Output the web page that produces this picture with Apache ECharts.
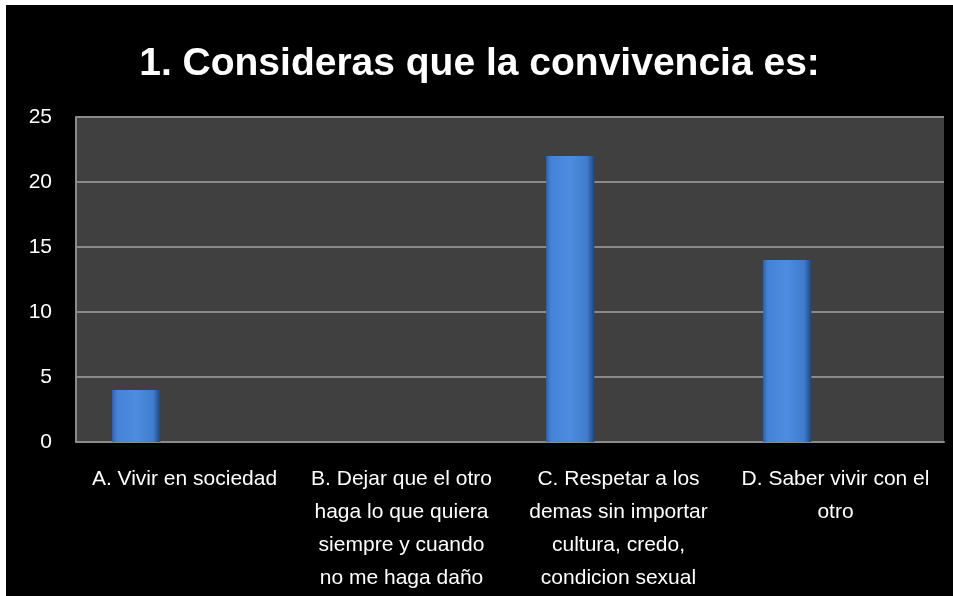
<!DOCTYPE html>
<html>
<head>
<meta charset="utf-8">
<script src="https://cdn.jsdelivr.net/npm/echarts@6/dist/echarts.min.js"></script>
<style>
html,body{margin:0;padding:0;background:#fff;width:953px;height:596px;overflow:hidden;}
#c{position:absolute;left:6px;top:5px;width:947px;height:591px;}
</style>
</head>
<body>
<div id="c"></div>
<script>
const titleText = "1. Consideras que la convivencia es:";
const categories = [
  "A. Vivir en sociedad",
  "B. Dejar que el otro\nhaga lo que quiera\nsiempre y cuando\nno me haga daño",
  "C. Respetar a los\ndemas sin importar\ncultura, credo,\ncondicion sexual",
  "D. Saber vivir con el\notro"
];
const values = [4, 0, 22, 14];
const emptySeriesA = [null, null, null, null];
const emptySeriesB = [null, null, null, null];
const yTicks = {min: 0, max: 25, interval: 5};

const font = '"Liberation Sans", "Noto Sans", sans-serif';
const chart = echarts.init(document.getElementById('c'), null, {renderer: 'canvas'});
const barStyle = {
  color: new echarts.graphic.LinearGradient(0, 0, 1, 0, [
    {offset: 0, color: '#2f63ad'},
    {offset: 0.1, color: '#4683d6'},
    {offset: 0.5, color: '#4d8ce0'},
    {offset: 0.85, color: '#3f7ccc'},
    {offset: 1, color: '#1c467f'}
  ]),
  borderWidth: 0
};
chart.setOption({
  backgroundColor: '#000',
  animation: false,
  title: {
    text: titleText,
    left: 'center',
    top: 35,
    textStyle: {color: '#fff', fontSize: 39, fontWeight: 'bold', fontFamily: font}
  },
  grid: {left: 70, right: 9, top: 112, bottom: 154, containLabel: false,
         show: true, backgroundColor: '#404040', borderWidth: 0},
  xAxis: {
    type: 'category',
    data: categories,
    axisLine: {show: true, lineStyle: {color: '#8a8a8a', width: 2}},
    axisTick: {show: false},
    axisLabel: {color: '#fff', fontSize: 21, fontFamily: font, interval: 0, margin: 21, lineHeight: 33}
  },
  yAxis: {
    type: 'value',
    min: yTicks.min, max: yTicks.max, interval: yTicks.interval,
    axisLine: {show: true, lineStyle: {color: '#8a8a8a', width: 2}},
    axisTick: {show: false},
    splitLine: {show: true, lineStyle: {color: '#8a8a8a', width: 2}},
    axisLabel: {color: '#fff', fontSize: 21, fontFamily: font, margin: 24}
  },
  series: [
    {type: 'bar', data: values, itemStyle: barStyle, barGap: '0%', barCategoryGap: '33.3%'},
    {type: 'bar', data: emptySeriesA, itemStyle: barStyle},
    {type: 'bar', data: emptySeriesB, itemStyle: barStyle}
  ]
});
</script>
</body>
</html>
